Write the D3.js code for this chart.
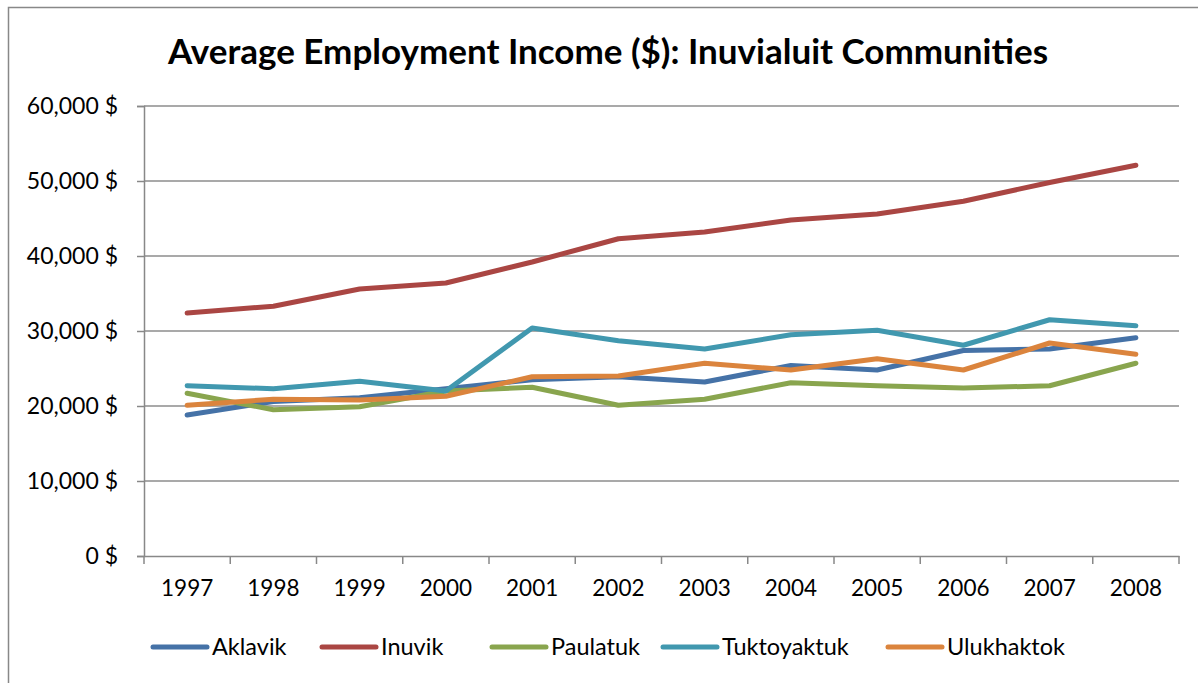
<!DOCTYPE html>
<html><head><meta charset="utf-8">
<script src="https://cdn.jsdelivr.net/npm/d3@7"></script>
<style>body{margin:0;background:#fff}svg{display:block}text{font-family:Lato,"Open Sans",sans-serif}</style>
</head><body><svg id="c" width="1198" height="683"></svg>
<script>
const years = ["1997","1998","1999","2000","2001","2002","2003","2004","2005","2006","2007","2008"];
const aklavik     = [18800,20600,21100,22300,23500,23900,23200,25400,24800,27400,27600,29100];
const inuvik      = [32400,33300,35600,36400,39200,42300,43200,44800,45600,47300,49800,52100];
const paulatuk    = [21700,19500,19900,22000,22500,20100,20900,23100,22700,22400,22700,25700];
const tuktoyaktuk = [22700,22300,23300,22000,30400,28700,27600,29500,30100,28100,31500,30700];
const ulukhaktok  = [20100,20900,20800,21300,23900,24000,25700,24800,26300,24800,28400,26900];
const seriesNames = ["Aklavik","Inuvik","Paulatuk","Tuktoyaktuk","Ulukhaktok"];
const seriesValues = [aklavik, inuvik, paulatuk, tuktoyaktuk, ulukhaktok];
const colors = ["#4572A7","#AA4643","#89A54E","#4198AF","#DB843D"];
const yTicks = [0,10000,20000,30000,40000,50000,60000];
const title = "Average Employment Income ($): Inuvialuit Communities";

const svg = d3.select("#c");
svg.append("rect").attr("x",8.5).attr("y",7.5).attr("width",1200).attr("height",700)
  .attr("fill","none").attr("stroke","#888").attr("stroke-width",1.5);

const L=144, R=1179, T=106, B=556;
const x = d3.scaleBand().domain(years).range([L,R]);
const y = d3.scaleLinear().domain([0,60000]).range([B,T]);
const fmt = v => d3.format(",")(v) + " $";

// gridlines
svg.append("g").selectAll("line").data(yTicks.filter(d=>d>0)).join("line")
  .attr("x1",L).attr("x2",R).attr("y1",d=>y(d)).attr("y2",d=>y(d))
  .attr("stroke","#8c8c8c").attr("stroke-width",1.5);

// y axis
const ya = svg.append("g").attr("transform",`translate(${L},0)`)
  .call(d3.axisLeft(y).tickValues(yTicks).tickFormat(fmt).tickSize(7).tickPadding(19));
ya.select(".domain").attr("stroke","#888").attr("stroke-width",1.5);
ya.selectAll(".tick line").attr("stroke","#888").attr("stroke-width",1.5);
ya.selectAll("text").attr("font-size",23).attr("fill","#000").style("font-family","Lato");

// x axis
const xa = svg.append("g").attr("transform",`translate(0,${B})`)
  .call(d3.axisBottom(x).tickSize(0).tickPadding(24));
xa.select(".domain").attr("stroke","#888").attr("stroke-width",1.5);
xa.selectAll("text").attr("font-size",22.5).attr("fill","#000").style("font-family","Lato");
const bounds = years.map(d=>x(d)).concat([R]);
xa.selectAll(".bt").data(bounds).join("line").attr("class","bt")
  .attr("x1",d=>d).attr("x2",d=>d).attr("y1",0).attr("y2",8)
  .attr("stroke","#888").attr("stroke-width",1.5);

// lines
const line = d3.line().x((d,i)=>x(years[i])+x.bandwidth()/2).y(d=>y(d));
svg.append("g").selectAll("path").data(seriesValues).join("path")
  .attr("d",line).attr("fill","none").attr("stroke",(d,i)=>colors[i])
  .attr("stroke-width",5).attr("stroke-linecap","round").attr("stroke-linejoin","round");

// title
svg.append("text").attr("x",608).attr("y",64).attr("text-anchor","middle")
  .attr("font-size",35).attr("font-weight","bold").attr("fill","#000").text(title);

// legend
const legX = [153,322,492,663,888];
const lg = svg.append("g").selectAll("g").data(seriesNames).join("g")
  .attr("transform",(d,i)=>`translate(${legX[i]},647)`);
lg.append("line").attr("x1",0).attr("x2",54).attr("y1",0).attr("y2",0)
  .attr("stroke",(d,i)=>colors[i]).attr("stroke-width",5).attr("stroke-linecap","round");
lg.append("text").attr("x",59).attr("y",8).attr("font-size",23.5).attr("fill","#000").text(d=>d);
</script></body></html>
